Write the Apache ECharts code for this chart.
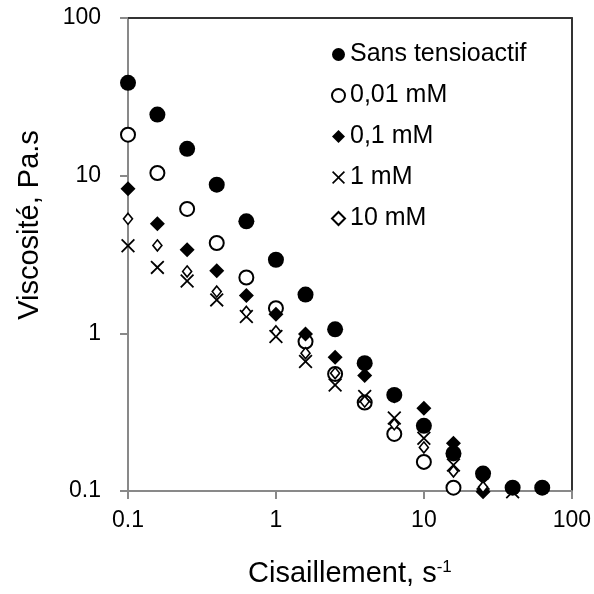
<!DOCTYPE html>
<html><head><meta charset="utf-8">
<script src="https://cdn.jsdelivr.net/npm/echarts@6/dist/echarts.min.js"></script>
<style>html,body{margin:0;padding:0;background:#fff}#c{width:594px;height:594px}</style>
</head><body><div id="c"></div>
<script>
// Shear rate (s^-1), 5 points per decade
const shearRates = [0.1, 0.158, 0.251, 0.398, 0.631, 1, 1.585, 2.512, 3.981, 6.31, 10, 15.85, 25.12, 39.81, 63.1];
// Viscosity (Pa.s) per surfactant concentration
const sansTensioactif = [38.8, 24.4, 14.8, 8.77, 5.13, 2.93, 1.76, 1.06, 0.647, 0.407, 0.259, 0.173, 0.129, 0.105, 0.105];
const mM0_01 = [18.2, 10.4, 6.15, 3.74, 2.26, 1.445, 0.887, 0.553, 0.364, 0.230, 0.153, 0.105, null, null, null];
const mM0_1 = [8.27, 4.96, 3.39, 2.49, 1.74, 1.32, 0.99, 0.706, 0.540, 0.40, 0.335, 0.201, 0.099, null, null];
const mM1 = [3.59, 2.62, 2.15, 1.63, 1.28, 0.955, 0.662, 0.471, 0.397, 0.290, 0.216, 0.146, 0.112, 0.099, null];
const mM10 = [5.33, 3.61, 2.47, 1.84, 1.37, 1.03, 0.748, 0.559, 0.369, 0.265, 0.189, 0.133, 0.106, null, null];

const seriesNames = ['Sans tensioactif', '0,01 mM', '0,1 mM', '1 mM', '10 mM'];
const xTickLabels = ['0.1', '1', '10', '100'];
const yTickLabels = ['0.1', '1', '10', '100'];
const xTitle = 'Cisaillement, s';
const xTitleSup = '-1';
const yTitle = 'Viscosité, Pa.s';

const FONT = 'Liberation Sans, Arial, sans-serif';
const pairs = arr => shearRates.map((x, i) => [x, arr[i]]).filter(p => p[1] != null);
const xPath = 'path://M0,0.9L0.9,0L5,4.1L9.1,0L10,0.9L5.9,5L10,9.1L9.1,10L5,5.9L0.9,10L0,9.1L4.1,5Z';

const styles = [
  { symbol: 'circle', symbolSize: 16, itemStyle: { color: '#000', opacity: 1 } },
  { symbol: 'circle', symbolSize: 14, itemStyle: { color: '#fff', borderColor: '#000', borderWidth: 2, opacity: 1 } },
  { symbol: 'diamond', symbolSize: 15, itemStyle: { color: '#000', opacity: 1 } },
  { symbol: xPath, symbolSize: 14, itemStyle: { color: '#000', opacity: 1 } },
  { symbol: 'diamond', symbolSize: [9, 11], itemStyle: { color: '#fff', borderColor: '#000', borderWidth: 1.6, opacity: 1 } }
];
const datasets = [sansTensioactif, mM0_01, mM0_1, mM1, mM10];

const chart = echarts.init(document.getElementById('c'), null, { renderer: 'canvas' });
const logIdx = v => Math.round(Math.log10(v)) + 1;

chart.setOption({
  animation: false,
  backgroundColor: '#fff',
  textStyle: { fontFamily: FONT, color: '#000' },
  grid: { left: 128, right: 19, top: 18, bottom: 103, containLabel: false },
  legend: {
    orient: 'vertical', left: 326, top: 37,
    itemWidth: 13, itemHeight: 13, itemGap: 16,
    textStyle: { fontFamily: FONT, fontSize: 25, color: '#000', lineHeight: 25 },
    data: seriesNames
  },
  xAxis: [{
    type: 'log', logBase: 10, min: 0.1, max: 100,
    axisLine: { lineStyle: { color: '#898989', width: 2 } },
    axisTick: { show: true, length: 8, lineStyle: { color: '#898989', width: 2 } },
    minorTick: { show: false },
    splitLine: { show: false },
    axisLabel: { fontFamily: FONT, fontSize: 23, color: '#000', margin: 18,
      formatter: v => xTickLabels[logIdx(v)] },
    name: xTitle + '{sup|' + xTitleSup + '}',
    nameLocation: 'middle', nameGap: 68,
    nameTextStyle: { fontFamily: FONT, fontSize: 29, color: '#000', lineHeight: 29,
      rich: { sup: { fontFamily: FONT, fontSize: 17, color: '#000', verticalAlign: 'top', lineHeight: 29, padding: [0, 0, 10, 0] } } }
  }, {
    type: 'log', logBase: 10, min: 0.1, max: 100, position: 'top',
    axisLine: { lineStyle: { color: '#333', width: 2 } },
    axisTick: { show: false }, axisLabel: { show: false }, splitLine: { show: false }
  }],
  yAxis: [{
    type: 'log', logBase: 10, min: 0.1, max: 100,
    axisLine: { show: true, lineStyle: { color: '#898989', width: 2 } },
    axisTick: { show: true, length: 8, lineStyle: { color: '#898989', width: 2 } },
    splitLine: { show: false },
    axisLabel: { fontFamily: FONT, fontSize: 23, color: '#000', margin: 27,
      formatter: v => yTickLabels[logIdx(v)] }
  }, {
    type: 'log', logBase: 10, min: 0.1, max: 100, position: 'right',
    axisLine: { show: true, lineStyle: { color: '#333', width: 2 } },
    axisTick: { show: false }, axisLabel: { show: false }, splitLine: { show: false }
  }],
  graphic: [{
    type: 'text', x: 30, y: 225, rotation: Math.PI / 2,
    style: { text: yTitle, fontFamily: FONT, fontSize: 29, fill: '#000', align: 'center', verticalAlign: 'middle' }
  }],
  series: datasets.map((d, i) => Object.assign({
    name: seriesNames[i], type: 'scatter', clip: false,
    xAxisIndex: 0, yAxisIndex: 0,
    data: pairs(d), z: 2 + i
  }, styles[i]))
});
</script></body></html>
